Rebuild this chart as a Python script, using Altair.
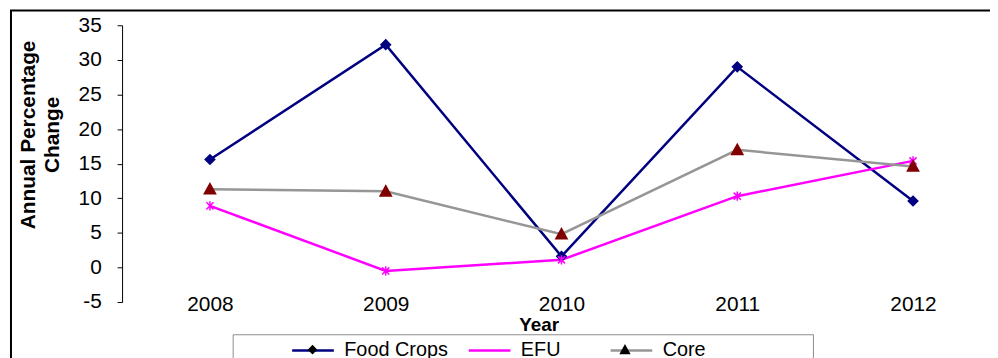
import altair as alt
import pandas as pd

# ---- data ----
years = [2008, 2009, 2010, 2011, 2012]
food_crops = [15.6, 32.2, 1.6, 29.0, 9.6]
efu = [8.9, -0.5, 1.1, 10.3, 15.4]
core = [11.3, 11.0, 4.8, 17.0, 14.6]
series_names = ["Food Crops", "EFU", "Core"]   # alphabetical descending order
y_ticks = [-5, 0, 5, 10, 15, 20, 25, 30, 35]

line_colors = ["#000080", "#FF00FF", "#969696"]
marker_colors = ["#000080", "#FF00FF", "#800000"]

# marker shapes (unit paths, invisible move-to extents keep legend layout equal)
EXT = "M-1,0M1,0"
marker_paths = [
    EXT + "M0,-0.23L0.23,0L0,0.23L-0.23,0Z",
    EXT + "M-0.17,-0.17L0.17,0.17M-0.17,0.17L0.17,-0.17M0,-0.22L0,0.22",
    EXT + "M0,-0.27L0.27,0.22L-0.27,0.22Z",
]

rows = []
for name, vals in zip(series_names, [food_crops, efu, core]):
    for yr, v in zip(years, vals):
        rows.append({"Year": yr, "value": v, "series": name, "series_m": name})
df = pd.DataFrame(rows)

FONT = "Liberation Sans"
W, H = 875, 279
SYM = 1764
BLANK = "\u2800"   # invisible, not trimmed as whitespace

x_enc = alt.X(
    "Year:Q",
    scale=alt.Scale(domain=[2007.5, 2007.5 + W / 177.2], nice=False, zero=False),
    axis=alt.Axis(
        values=years, format="d", title="Year", domain=False, ticks=False, tickSize=0,
        grid=False, labelFont=FONT, labelFontSize=21, labelColor="black",
        labelBaseline="middle", labelPadding=3, labelFlush=False,
        titleFont=FONT, titleFontSize=19, titleFontWeight="bold", titleColor="black",
        titleX=420, titleY=29, titleAlign="center", titleBaseline="alphabetic",
    ),
)
y_enc = alt.Y(
    "value:Q",
    scale=alt.Scale(domain=[-5, 35], nice=False, zero=False),
    axis=alt.Axis(
        values=y_ticks, grid=False, domainColor="black", tickColor="black",
        tickSize=5, labelFont=FONT, labelFontSize=21, labelColor="black",
        labelExpr="datum.value < 0 ? '-' + abs(datum.value) : datum.label",
        labelPadding=16, title=["Annual Percentage", "Change"], titleFont=FONT,
        titleFontSize=21, titleFontWeight="bold", titleColor="black", titleAngle=270,
        titleX=-105, titleY=110, titleAlign="center", titleBaseline="top",
        titleLineHeight=24,
    ),
)

legend_common = dict(
    orient="none", legendX=170, legendY=305, direction="horizontal", title=None,
    padding=0, symbolSize=SYM, labelFont=FONT, labelFontSize=20, labelColor="black",
    labelOffset=9, columnPadding=15,
    labelExpr="datum.label == 'EFU' ? 'EFU" + BLANK * 2 + "' : datum.label",
)

lines = alt.Chart(df).mark_line(strokeWidth=2.5).encode(
    x=x_enc,
    y=y_enc,
    color=alt.Color(
        "series:N",
        sort="descending",
        scale=alt.Scale(range=line_colors),
        legend=alt.Legend(symbolType="stroke", symbolStrokeWidth=2.5, zindex=0,
                          **legend_common),
    ),
    detail="series:N",
)

points = alt.Chart(df).mark_point(size=SYM, opacity=1, strokeWidth=1.5).encode(
    x=x_enc,
    y=y_enc,
    shape=alt.Shape(
        "series_m:N",
        sort="descending",
        scale=alt.Scale(range=marker_paths),
        legend=alt.Legend(symbolStrokeWidth=1.5, labelOpacity=0, zindex=1,
                          **legend_common),
    ),
    fill=alt.Fill("series_m:N", sort="descending", scale=alt.Scale(range=marker_colors)),
    stroke=alt.Stroke("series_m:N", sort="descending", scale=alt.Scale(range=marker_colors)),
)

deco = pd.DataFrame({"k": [0]})
frame = alt.Chart(deco).mark_rect(fill="transparent", stroke="black", strokeWidth=2).encode(
    x=alt.value(-112), x2=alt.value(1000), y=alt.value(-15), y2=alt.value(400)
)
legend_box = alt.Chart(deco).mark_rect(fill="transparent", stroke="#8c8c8c", strokeWidth=1).encode(
    x=alt.value(112), x2=alt.value(697), y=alt.value(312), y2=alt.value(400)
)

chart = (
    alt.layer(frame, legend_box, lines, points)
    .properties(
        width=W, height=H,
        autosize=alt.AutoSizeParams(type="none"),
        padding={"left": 115, "top": 16, "right": 0, "bottom": 55},
    )
    .configure_view(stroke=None)
    .resolve_scale(shape="independent")
)

chart.save("out.html", embed_options={"renderer": "svg", "actions": False})
